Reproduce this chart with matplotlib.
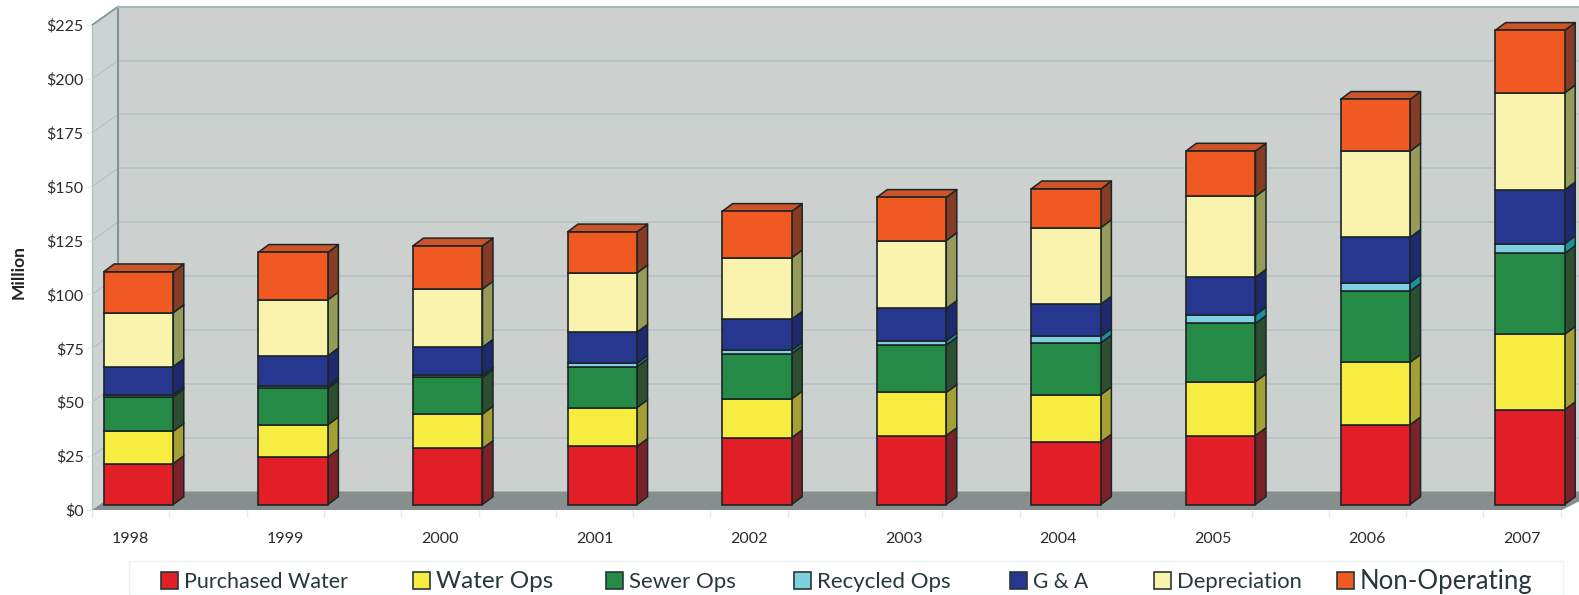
#!/usr/bin/env python
# -*- coding: utf-8 -*-

import matplotlib as mpl
mpl.use('Agg')
import matplotlib.pyplot as plt
from matplotlib.patches import Polygon, Rectangle
import numpy as np

years = ['1998', '1999', '2000', '2001', '2002', '2003', '2004', '2005', '2006', '2007']
series_names = ['Purchased Water', 'Water Ops', 'Sewer Ops', 'Recycled Ops', 'G & A', 'Depreciation', 'Non-Operating']

purchased = [19, 22, 26, 27, 31, 32, 29, 32, 37, 44]
water_ops = [15, 15, 16, 18, 18, 20, 22, 25, 29, 35]
sewer_ops = [16, 17, 17, 19, 21, 22, 24, 27, 33, 37.5]
recycled = [1, 1, 1, 1.5, 1.5, 2, 3, 4, 4, 4.5]
g_and_a = [13, 14, 13, 14.5, 14.5, 15, 15, 17.5, 21, 25]
depreciation = [25, 26, 27, 27.5, 28.5, 31.5, 35.5, 37.5, 40, 45]
non_operating = [19, 22, 20, 19, 21.5, 20, 18, 21, 24, 29]
all_series = [purchased, water_ops, sewer_ops, recycled, g_and_a, depreciation, non_operating]

y_ticks = [0, 25, 50, 75, 100, 125, 150, 175, 200, 225]

front_colors = ['#e21f26', '#f7ec40', '#258a45', '#7fcfe0', '#27368f', '#faf3ae', '#f05a22']
side_colors = ['#7b2228', '#a6a034', '#2c4f2f', '#1c8fa0', '#1f2a6e', '#969b5a', '#863c24']
top_color = '#cb5429'
edge = '#1c2526'

legend_x = [161, 413, 606, 794, 1010, 1154, 1337]
legend_sizes = [15.5, 17.5, 16, 16, 15, 15.8, 18.5]

W, H = 1579, 595
BASE_PX = 504.5      # pixel row of the bars' base
FIRST_PX = 138.5     # pixel column of the first bar's centre
CAT_PX = 154.6       # pixels per category
UNIT_PX = 2.155      # pixels per dollar million
BAR_W = 0.45
DX = 10.5 / CAT_PX   # bar depth
DY = 7.8 / UNIT_PX

plt.rcParams['font.family'] = ['Lato', 'DejaVu Sans']
fig = plt.figure(figsize=(W / 100, H / 100), dpi=100)

ax = fig.add_axes([0, 0, 1, 1])
ax.set_xlim(-FIRST_PX / CAT_PX, (W - FIRST_PX) / CAT_PX)
ax.set_ylim(-(H - BASE_PX) / UNIT_PX, BASE_PX / UNIT_PX)
ax.axis('off')

# walls and floor, offsets are in data units from the bars' plane
x_front = (92 - FIRST_PX) / CAT_PX
x_wall = (118 - FIRST_PX) / CAT_PX
x_front_end = (1562 - FIRST_PX) / CAT_PX
x_end = ax.get_xlim()[1]
y_front = -5.5 / UNIT_PX
y_wall = 13.0 / UNIT_PX
top = y_wall + 225
wall_color = '#ccd1d0'
line_color = '#b4c1c3'

ax.add_patch(Rectangle((x_wall, y_wall), x_end - x_wall, 225, fc=wall_color, ec='none', zorder=1))
ax.add_patch(Polygon([(x_front, y_front), (x_wall, y_wall), (x_wall, top), (x_front, y_front + 225)],
                     fc='#cdd3d2', ec='none', zorder=1))
ax.add_patch(Polygon([(x_front, y_front), (x_wall, y_wall), (x_end, y_wall),
                      (x_end, y_front + 4), (x_front_end, y_front)],
                     fc='#868f8e', ec='none', zorder=2))
for v in y_ticks[1:]:
    ax.plot([x_wall, x_end], [y_wall + v, y_wall + v], color=line_color, lw=1.1, zorder=2)
    ax.plot([x_front, x_wall], [y_front + v, y_wall + v], color=line_color, lw=0.9, zorder=2)
ax.plot([x_wall, x_wall], [y_wall, top], color='#7f9699', lw=1.5, zorder=2)
ax.plot([x_front, x_front], [y_front, y_front + 225], color='#b5bfc0', lw=1.0, zorder=2)
ax.plot([x_front, x_wall], [y_front + 225, top], color='#7f9699', lw=1.2, zorder=2)
ax.plot([x_wall, x_end], [top, top], color='#a9b6b8', lw=1.4, zorder=2)

# stacked bars with their side and top faces
z = 3
for i in range(len(years)):
    x0 = i - BAR_W / 2
    x1 = i + BAR_W / 2
    bottom = 0
    for s, values in enumerate(all_series):
        v = values[i]
        ax.add_patch(Polygon([(x1, bottom), (x1 + DX, bottom + DY), (x1 + DX, bottom + v + DY), (x1, bottom + v)],
                             fc=side_colors[s], ec=edge, lw=1.1, joinstyle='round', zorder=z))
        ax.bar(i, v, BAR_W, bottom=bottom, color=front_colors[s], edgecolor=edge, linewidth=1.2, zorder=z + 1)
        bottom += v
    ax.add_patch(Polygon([(x0, bottom), (x1, bottom), (x1 + DX, bottom + DY), (x0 + DX, bottom + DY)],
                         fc=top_color, ec=edge, lw=1.1, joinstyle='round', zorder=z))
    z += 2

# front plane axes only carries the ticks and labels
px_per_cat = 154.6
front = fig.add_axes([92 / W, 1 - 510 / H, px_per_cat * 9.5 / W, 485 / H])
front.patch.set_alpha(0)
front.set_xlim(0, 9.5)
front.set_ylim(0, 225)
for sp in front.spines.values():
    sp.set_visible(False)
front.set_yticks(y_ticks)
front.set_yticklabels(['$%d' % v for v in y_ticks], fontsize=11.5, color='#2b2b2b')
front.set_xticks(np.arange(len(years)) + 0.25)
front.set_xticklabels(years, fontsize=11.5, color='#2b2b2b')
front.set_xticks(np.arange(0, 9.6, 0.5), minor=True)
front.tick_params(axis='x', which='major', length=0, pad=16)
front.tick_params(axis='x', which='minor', length=5, color='#ece8e6', width=1)
front.tick_params(axis='y', length=4, color='#e8ecec', width=1, pad=2)
front.set_ylabel('Million', fontsize=12.5, fontweight='bold', color='#222222', labelpad=14, y=0.49)

# legend box, entries are spaced unevenly in the original
leg = fig.add_axes([0, 0, 1, 1])
leg.set_xlim(0, W)
leg.set_ylim(H, 0)
leg.axis('off')
leg.patch.set_alpha(0)
leg.add_patch(Rectangle((129, 561), 1434, 34, fc='white', ec='#edf3f4', lw=1))
for name, c, lx, fs in zip(series_names, front_colors, legend_x, legend_sizes):
    leg.add_patch(Rectangle((lx, 572), 17, 17, fc=c, ec='#26383a', lw=1.2))
    leg.text(lx + 23, 582, name, fontsize=fs, color='#26383a', va='center', ha='left')

fig.savefig('out.png', dpi=100)
